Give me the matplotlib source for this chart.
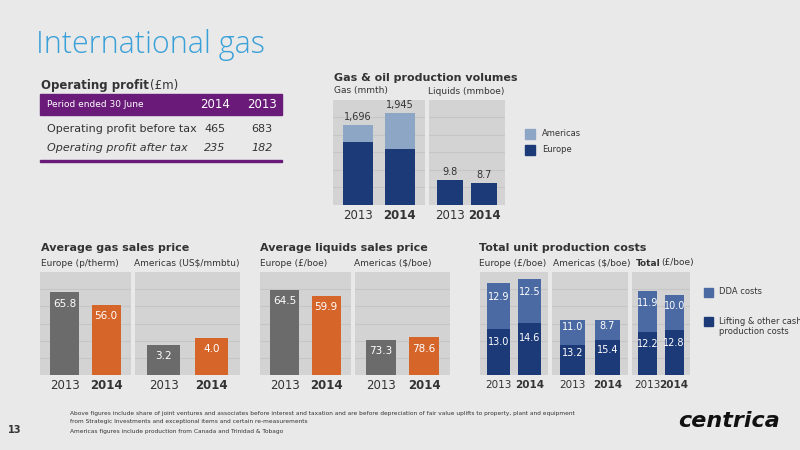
import matplotlib.pyplot as plt
from matplotlib.patches import Rectangle

W, H = 800, 450
BG = '#e9e9e9'
PANEL = '#d3d3d3'
GRID = '#c6c6c6'
DARK = '#1c3a78'
LIGHT_GAS = '#8ea6c6'
DDA = '#4b6aa3'
GREY = '#6b6b6b'
ORANGE = '#d6652a'
PURPLE = '#6a1b7a'
TXT = '#333333'

years = ['2013', '2014']
# production volumes
gas_europe = [1336, 1184]
gas_americas = [360, 761]
gas_total = [1696, 1945]
liquids = [9.8, 8.7]
# sales prices
gas_price_europe = [65.8, 56.0]
gas_price_americas = [3.2, 4.0]
liq_price_europe = [64.5, 59.9]
liq_price_americas = [73.3, 78.6]
# unit costs: lifting, DDA
cost_eu_lift = [13.0, 14.6]
cost_eu_dda = [12.9, 12.5]
cost_am_lift = [13.2, 15.4]
cost_am_dda = [11.0, 8.7]
cost_tot_lift = [12.2, 12.8]
cost_tot_dda = [11.9, 10.0]

fig = plt.figure(figsize=(8, 4.5), dpi=100)
fig.patch.set_facecolor(BG)


def fx(x):
    return x / W


def fy(y):
    return 1 - y / H


def txt(x, y, s, **kw):
    kw.setdefault('color', TXT)
    kw.setdefault('va', 'center')
    fig.text(fx(x), fy(y), s, **kw)


def rect(x0, y0, x1, y1, color):
    fig.patches.append(Rectangle((fx(x0), fy(y1)), fx(x1 - x0), (y1 - y0) / H,
                                 transform=fig.transFigure, color=color, zorder=0))


def panel_axes(x0, x1, y0, y1, ymax):
    ax = fig.add_axes([fx(x0), fy(y1), fx(x1 - x0), (y1 - y0) / H])
    ax.set_facecolor(PANEL)
    ax.set_ylim(0, ymax)
    ax.set_xlim(-0.6, 1.6)
    for sp in ax.spines.values():
        sp.set_visible(False)
    ax.set_xticks([])
    ax.set_yticks([ymax * k / 6 for k in range(1, 6)])
    ax.set_yticklabels([])
    ax.tick_params(length=0)
    ax.grid(axis='y', color=GRID, lw=0.8)
    ax.set_axisbelow(True)
    return ax


def year_labels(ax, size=8.5):
    for i, y in enumerate(years):
        ax.text(i, -0.1, y, transform=ax.get_xaxis_transform(), ha='center', va='center',
                fontsize=size, color=TXT, fontweight='bold' if i == 1 else 'normal')


def simple(ax, vals, colors):
    ax.bar([0, 1], vals, width=0.7, color=colors)
    for i, v in enumerate(vals):
        ax.text(i, v - ax.get_ylim()[1] * 0.06, f'{v:.1f}', ha='center', va='top',
                color='white', fontsize=7.5)
    year_labels(ax)


# title
txt(36, 45, 'International gas', fontsize=22, color='#3aa0d8', fontweight='light',
    family='Open Sans')

# table
txt(41, 86, 'Operating profit', fontsize=8.5, fontweight='bold')
txt(150, 86, '(£m)', fontsize=8.5)
rect(40, 94, 282, 115, PURPLE)
txt(47, 104.5, 'Period ended 30 June', fontsize=6.5, color='white')
txt(215, 104.5, '2014', fontsize=8.5, color='white', ha='center')
txt(262, 104.5, '2013', fontsize=8.5, color='white', ha='center')
txt(47, 129, 'Operating profit before tax', fontsize=8)
txt(215, 129, '465', fontsize=8, ha='center')
txt(262, 129, '683', fontsize=8, ha='center')
txt(47, 148, 'Operating profit after tax', fontsize=8, style='italic')
txt(215, 148, '235', fontsize=8, ha='center', style='italic')
txt(262, 148, '182', fontsize=8, ha='center', style='italic')
rect(40, 160, 282, 162, PURPLE)

# production volumes
txt(334, 78, 'Gas & oil production volumes', fontsize=8, fontweight='bold')
txt(334, 91, 'Gas (mmth)', fontsize=6.5)
txt(428, 91, 'Liquids (mmboe)', fontsize=6.5)
ax = panel_axes(333, 425, 100, 205, 2225)
ax.bar([0, 1], gas_europe, width=0.7, color=DARK)
ax.bar([0, 1], gas_americas, bottom=gas_europe, width=0.7, color=LIGHT_GAS)
for i, v in enumerate(gas_total):
    ax.text(i, v + 60, f'{v:,}', ha='center', va='bottom', fontsize=7, color=TXT)
year_labels(ax)
ax = panel_axes(429, 505, 100, 205, 41)
ax.bar([0, 1], liquids, width=0.75, color=DARK)
for i, v in enumerate(liquids):
    ax.text(i, v + 1.2, f'{v:.1f}', ha='center', va='bottom', fontsize=7, color=TXT)
year_labels(ax)
rect(525, 129, 535, 139, LIGHT_GAS)
txt(542, 134, 'Americas', fontsize=6)
rect(525, 145, 535, 155, DARK)
txt(542, 150, 'Europe', fontsize=6)

# gas sales price
txt(41, 248, 'Average gas sales price', fontsize=8, fontweight='bold')
txt(41, 263, 'Europe (p/therm)', fontsize=6.5)
txt(134, 263, 'Americas (US$/mmbtu)', fontsize=6.5)
simple(panel_axes(40, 131, 272, 375, 82), gas_price_europe, [GREY, ORANGE])
simple(panel_axes(135, 240, 272, 375, 11), gas_price_americas, [GREY, ORANGE])

# liquids sales price
txt(260, 248, 'Average liquids sales price', fontsize=8, fontweight='bold')
txt(260, 263, 'Europe (£/boe)', fontsize=6.5)
txt(354, 263, 'Americas ($/boe)', fontsize=6.5)
simple(panel_axes(260, 351, 272, 375, 78), liq_price_europe, [GREY, ORANGE])
simple(panel_axes(355, 450, 272, 375, 215), liq_price_americas, [GREY, ORANGE])

# unit costs
txt(479, 248, 'Total unit production costs', fontsize=8, fontweight='bold')
txt(479, 263, 'Europe (£/boe)', fontsize=6.5)
txt(553, 263, 'Americas ($/boe)', fontsize=6.5)
txt(636, 263, 'Total', fontsize=6.5, fontweight='bold')
txt(661, 263, '(£/boe)', fontsize=6.5)
for (x0, x1, ymax, lift, dda) in [(480, 548, 29, cost_eu_lift, cost_eu_dda),
                                  (552, 628, 45, cost_am_lift, cost_am_dda),
                                  (632, 690, 29.5, cost_tot_lift, cost_tot_dda)]:
    ax = panel_axes(x0, x1, 272, 375, ymax)
    ax.bar([0, 1], lift, width=0.72, color=DARK)
    ax.bar([0, 1], dda, bottom=lift, width=0.72, color=DDA)
    for i in range(2):
        ax.text(i, lift[i] * 0.72, f'{lift[i]:.1f}', ha='center', va='center',
                color='white', fontsize=7)
        ax.text(i, lift[i] + dda[i] * 0.7, f'{dda[i]:.1f}', ha='center', va='center',
                color='white', fontsize=7)
    year_labels(ax, 7.5)
rect(704, 288, 713, 297, DDA)
txt(719, 292, 'DDA costs', fontsize=6)
rect(704, 317, 713, 326, DARK)
txt(719, 321, 'Lifting & other cash', fontsize=6)
txt(719, 332, 'production costs', fontsize=6)

# footer
txt(8, 430, '13', fontsize=7, fontweight='bold')
txt(70, 413, 'Above figures include share of joint ventures and associates before interest and taxation and are before depreciation of fair value uplifts to property, plant and equipment',
    fontsize=4.2)
txt(70, 422, 'from Strategic Investments and exceptional items and certain re-measurements', fontsize=4.2)
txt(70, 431, 'Americas figures include production from Canada and Trinidad & Tobago', fontsize=4.2)
txt(780, 421, 'centrica', fontsize=16, fontweight='bold', style='italic', color='#111111', ha='right')

fig.savefig('out.png', dpi=100, facecolor=BG)
